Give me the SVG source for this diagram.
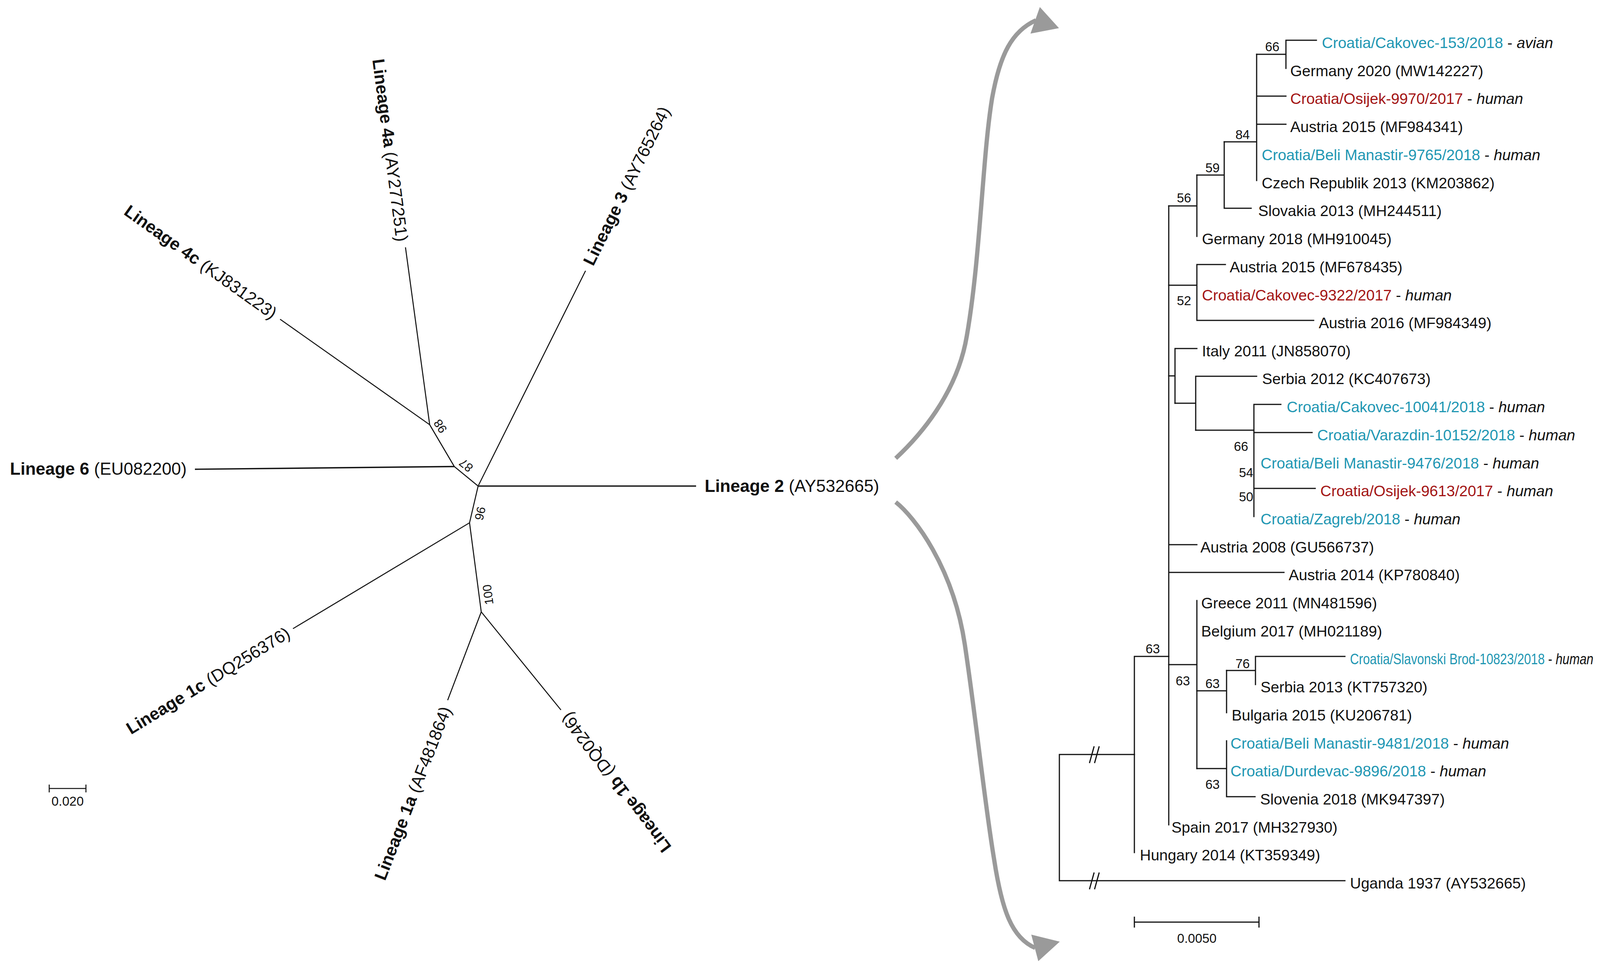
<svg xmlns="http://www.w3.org/2000/svg" width="4284" height="2480" viewBox="0 0 4284 2480">
<style>
.bg{fill:#fff}
.br{stroke:#111;stroke-width:3;fill:none;stroke-linecap:square}
.bl{stroke:#111;stroke-width:2.6;fill:none}
.lbl{font-family:"Liberation Sans",Arial,sans-serif;font-size:44px;fill:#111}
.leaf{font-family:"Liberation Sans",Arial,sans-serif;font-size:39px;fill:#111}
.bs{font-family:"Liberation Sans",Arial,sans-serif;font-size:33px;fill:#111;text-anchor:middle}
.b{font-weight:bold}
.cy{fill:#1f97b3}
.rd{fill:#a31515}
.it{font-style:italic}
.arr{stroke:#9a9a9a;stroke-width:11;fill:none;stroke-linecap:butt}
.ah{fill:#9a9a9a}
</style>
<rect class="bg" x="0" y="0" width="4284" height="2480"/>

<g id="connectors">
  <g id="left-branches">
    <line class="bl" x1="499" y1="1201" x2="1163" y2="1194" style="stroke-width:3.4"/>
    <line class="bl" x1="1163" y1="1194" x2="1100" y2="1087"/>
    <line class="bl" x1="1100" y1="1087" x2="1038" y2="633"/>
    <line class="bl" x1="1100" y1="1087" x2="717" y2="817"/>
    <line class="bl" x1="1163" y1="1194" x2="1224" y2="1244"/>
    <line class="bl" x1="1224" y1="1244" x2="1499" y2="693"/>
    <line class="bl" x1="1224" y1="1244" x2="1782" y2="1244" style="stroke-width:4;stroke:#333"/>
    <line class="bl" x1="1224" y1="1244" x2="1202" y2="1338"/>
    <line class="bl" x1="1202" y1="1338" x2="750" y2="1609"/>
    <line class="bl" x1="1202" y1="1338" x2="1232" y2="1566"/>
    <line class="bl" x1="1232" y1="1566" x2="1146" y2="1792"/>
    <line class="bl" x1="1232" y1="1566" x2="1436" y2="1817"/>
    <path class="bl" d="M126 2018 H220 M126 2008 V2028 M220 2008 V2028"/>
  </g>

  <g id="arrows">
    <path class="arr" d="M2293 1173 C2350 1120 2450 1010 2475 860 C2510 660 2515 400 2540 250 C2560 140 2590 80 2652 52"/>
    <polygon class="ah" points="2662,18 2711,72 2638,86"/>
    <path class="arr" d="M2293 1285 C2340 1322 2440 1450 2470 1650 C2500 1850 2520 2050 2545 2200 C2565 2330 2590 2400 2650 2426"/>
    <polygon class="ah" points="2640,2392 2713,2410 2658,2460"/>
  </g>

  <g id="right-branches">
    <path class="br" d="M3292 103 V175 M3292 103 H3370 M3217 139 H3292"/>
    <path class="br" d="M3217 139 V462 M3217 246 H3292 M3217 318 H3292 M3134 363 H3217"/>
    <path class="br" d="M3134 363 V533 M3134 533 H3203 M3064 448 H3134"/>
    <path class="br" d="M3064 448 V605 M2992 527 H3064"/>
    <path class="br" d="M3064 677 V820 M3064 677 H3137 M3064 820 H3363 M2992 730 H3064"/>
    <path class="br" d="M3008 892 V1032 M3008 892 H3064 M2992 962 H3008"/>
    <path class="br" d="M3061 963 V1101 M3061 963 H3217 M3008 1032 H3061"/>
    <path class="br" d="M3210 1035 V1322 M3210 1035 H3279 M3210 1107 H3359 M3210 1250 H3367 M3061 1101 H3210"/>
    <path class="br" d="M2992 527 V2111 M2992 1394 H3064 M2992 1465 H3287"/>
    <path class="br" d="M3064 1537 V1967 M2992 1701 H3064"/>
    <path class="br" d="M3140 1716 V1824 M3064 1768 H3140"/>
    <path class="br" d="M3214 1680 V1752 M3214 1680 H3443 M3140 1716 H3214"/>
    <path class="br" d="M3140 1896 V2039 M3140 2039 H3213 M3064 1967 H3140"/>
    <path class="br" d="M2904 1680 V2182 M2904 1680 H2992"/>
    <path class="br" d="M2712 1931 V2254 M2712 1931 H2904 M2712 2254 H3443"/>
    <path class="br" d="M2789 1953 L2801 1910 M2802 1953 L2814 1910 M2789 2276 L2801 2233 M2802 2276 L2814 2233" style="stroke-linecap:butt"/>
    <path class="br" d="M2904 2360 H3223 M2904 2346 V2374 M3223 2346 V2374" style="stroke-linecap:butt"/>
  </g>
</g>

<g id="lineage-4a"><text class="lbl" transform="translate(1030,618) rotate(82.5)" text-anchor="end" dy="0.35em"><tspan class="b">Lineage 4a</tspan> (AY277251)</text></g>
<g id="lineage-4c"><text class="lbl" transform="translate(704,806) rotate(35.5)" text-anchor="end" dy="0.35em"><tspan class="b">Lineage 4c</tspan> (KJ831223)</text></g>
<g id="lineage-6"><text class="lbl" transform="translate(478,1200)" text-anchor="end" dy="0.35em"><tspan class="b">Lineage 6</tspan> (EU082200)</text></g>
<g id="lineage-3"><text class="lbl" transform="translate(1505,676) rotate(-63.7)" text-anchor="start" dy="0.35em"><tspan class="b">Lineage 3</tspan> (AY765264)</text></g>
<g id="lineage-2"><text class="lbl" transform="translate(1804,1244)" text-anchor="start" dy="0.35em"><tspan class="b">Lineage 2</tspan> (AY532665)</text></g>
<g id="lineage-1c"><text class="lbl" transform="translate(738,1616) rotate(-31.5)" text-anchor="end" dy="0.35em"><tspan class="b">Lineage 1c</tspan> (DQ256376)</text></g>
<g id="lineage-1a"><text class="lbl" transform="translate(1142,1810) rotate(-68.8)" text-anchor="end" dy="0.35em"><tspan class="b">Lineage 1a</tspan> (AF481864)</text></g>
<g id="lineage-1b"><text class="lbl" transform="translate(1446,1829) rotate(-127)" text-anchor="end" dy="0.35em"><tspan class="b">Lineage 1b</tspan> (DQ0246)</text></g>

<g id="left-bootstrap">
  <text class="bs" style="font-size:31px" transform="translate(1127,1091) rotate(237)" dy="0.35em">98</text>
  <text class="bs" style="font-size:31px" transform="translate(1193,1191) rotate(219)" dy="0.35em">87</text>
  <text class="bs" style="font-size:31px" transform="translate(1229,1314) rotate(-77)" dy="0.35em">96</text>
  <text class="bs" style="font-size:31px" transform="translate(1249,1522) rotate(-97.5)" dy="0.35em">100</text>
</g>
<g id="left-scale"><text class="bs" x="173" y="2050" dy="0.35em">0.020</text></g>

<g id="leaves">
  <g id="r1"><text class="leaf" x="3384" y="109" dy="0.35em"><tspan class="cy">Croatia/Cakovec-153/2018</tspan> - <tspan class="it">avian</tspan></text></g>
  <g id="r2"><text class="leaf" x="3303" y="181" dy="0.35em">Germany 2020 (MW142227)</text></g>
  <g id="r3"><text class="leaf" x="3303" y="252" dy="0.35em"><tspan class="rd">Croatia/Osijek-9970/2017</tspan> - <tspan class="it">human</tspan></text></g>
  <g id="r4"><text class="leaf" x="3303" y="324" dy="0.35em">Austria 2015 (MF984341)</text></g>
  <g id="r5"><text class="leaf" x="3230" y="396" dy="0.35em"><tspan class="cy">Croatia/Beli Manastir-9765/2018</tspan> - <tspan class="it">human</tspan></text></g>
  <g id="r6"><text class="leaf" x="3230" y="468" dy="0.35em">Czech Republik 2013 (KM203862)</text></g>
  <g id="r7"><text class="leaf" x="3221" y="539" dy="0.35em">Slovakia 2013 (MH244511)</text></g>
  <g id="r8"><text class="leaf" x="3077" y="611" dy="0.35em">Germany 2018 (MH910045)</text></g>
  <g id="r9"><text class="leaf" x="3148" y="683" dy="0.35em">Austria 2015 (MF678435)</text></g>
  <g id="r10"><text class="leaf" x="3077" y="755" dy="0.35em"><tspan class="rd">Croatia/Cakovec-9322/2017</tspan> - <tspan class="it">human</tspan></text></g>
  <g id="r11"><text class="leaf" x="3376" y="826" dy="0.35em">Austria 2016 (MF984349)</text></g>
  <g id="r12"><text class="leaf" x="3077" y="898" dy="0.35em">Italy 2011 (JN858070)</text></g>
  <g id="r13"><text class="leaf" x="3231" y="969" dy="0.35em">Serbia 2012 (KC407673)</text></g>
  <g id="r14"><text class="leaf" x="3294" y="1041" dy="0.35em"><tspan class="cy">Croatia/Cakovec-10041/2018</tspan> - <tspan class="it">human</tspan></text></g>
  <g id="r15"><text class="leaf" x="3372" y="1113" dy="0.35em"><tspan class="cy">Croatia/Varazdin-10152/2018</tspan> - <tspan class="it">human</tspan></text></g>
  <g id="r16"><text class="leaf" x="3227" y="1185" dy="0.35em"><tspan class="cy">Croatia/Beli Manastir-9476/2018</tspan> - <tspan class="it">human</tspan></text></g>
  <g id="r17"><text class="leaf" x="3380" y="1256" dy="0.35em"><tspan class="rd">Croatia/Osijek-9613/2017</tspan> - <tspan class="it">human</tspan></text></g>
  <g id="r18"><text class="leaf" x="3227" y="1328" dy="0.35em"><tspan class="cy">Croatia/Zagreb/2018</tspan> - <tspan class="it">human</tspan></text></g>
  <g id="r19"><text class="leaf" x="3073" y="1400" dy="0.35em">Austria 2008 (GU566737)</text></g>
  <g id="r20"><text class="leaf" x="3299" y="1471" dy="0.35em">Austria 2014 (KP780840)</text></g>
  <g id="r21"><text class="leaf" x="3075" y="1543" dy="0.35em">Greece 2011 (MN481596)</text></g>
  <g id="r22"><text class="leaf" x="3075" y="1615" dy="0.35em">Belgium 2017 (MH021189)</text></g>
  <g id="r23"><text class="leaf" transform="translate(3456,1686) scale(0.81,1)" dy="0.35em"><tspan class="cy">Croatia/Slavonski Brod-10823/2018</tspan> - <tspan class="it">human</tspan></text></g>
  <g id="r24"><text class="leaf" x="3227" y="1758" dy="0.35em">Serbia 2013 (KT757320)</text></g>
  <g id="r25"><text class="leaf" x="3153" y="1830" dy="0.35em">Bulgaria 2015 (KU206781)</text></g>
  <g id="r26"><text class="leaf" x="3150" y="1902" dy="0.35em"><tspan class="cy">Croatia/Beli Manastir-9481/2018</tspan> - <tspan class="it">human</tspan></text></g>
  <g id="r27"><text class="leaf" x="3150" y="1973" dy="0.35em"><tspan class="cy">Croatia/Durdevac-9896/2018</tspan> - <tspan class="it">human</tspan></text></g>
  <g id="r28"><text class="leaf" x="3226" y="2045" dy="0.35em">Slovenia 2018 (MK947397)</text></g>
  <g id="r29"><text class="leaf" x="2999" y="2117" dy="0.35em">Spain 2017 (MH327930)</text></g>
  <g id="r30"><text class="leaf" x="2918" y="2188" dy="0.35em">Hungary 2014 (KT359349)</text></g>
  <g id="r31"><text class="leaf" x="3456" y="2260" dy="0.35em">Uganda 1937 (AY532665)</text></g>
</g>

<g id="right-bootstrap">
  <text class="bs" x="3257" y="119" dy="0.35em">66</text>
  <text class="bs" x="3181" y="344" dy="0.35em">84</text>
  <text class="bs" x="3104" y="429" dy="0.35em">59</text>
  <text class="bs" x="3031" y="506" dy="0.35em">56</text>
  <text class="bs" x="3031" y="769" dy="0.35em">52</text>
  <text class="bs" x="3177" y="1142" dy="0.35em">66</text>
  <text class="bs" x="3190" y="1209" dy="0.35em">54</text>
  <text class="bs" x="3190" y="1271" dy="0.35em">50</text>
  <text class="bs" x="2951" y="1660" dy="0.35em">63</text>
  <text class="bs" x="3181" y="1698" dy="0.35em">76</text>
  <text class="bs" x="3028" y="1742" dy="0.35em">63</text>
  <text class="bs" x="3104" y="1749" dy="0.35em">63</text>
  <text class="bs" x="3104" y="2007" dy="0.35em">63</text>
</g>
<g id="right-scale"><text class="bs" x="3064" y="2401" dy="0.35em">0.0050</text></g>
</svg>
